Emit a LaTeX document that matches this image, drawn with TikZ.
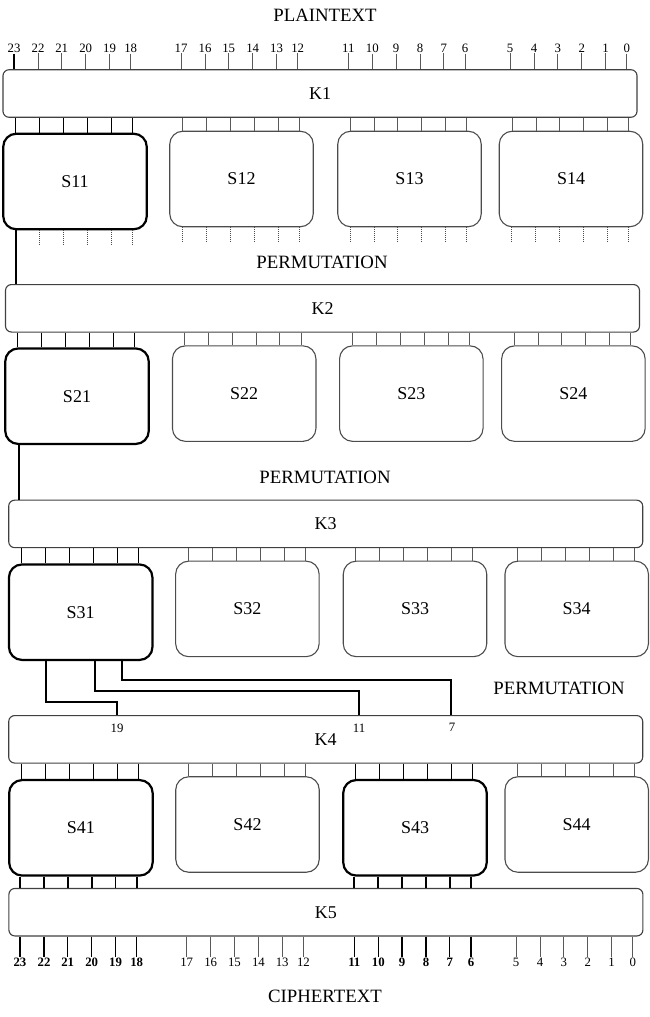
\documentclass[tikz,border=0pt]{standalone}
\usepackage{fontspec}
\setmainfont{Liberation Serif}
\begin{document}
\begin{tikzpicture}[x=1pt,y=-1pt,
  kbox/.style={draw=black!75, line width=1.1pt, rounded corners=6pt, minimum width=634pt, minimum height=47.5pt, inner sep=0pt, font=\fontsize{18}{20}\selectfont},
  sbox/.style={draw=black!70, line width=1.1pt, rounded corners=13pt, minimum width=143.5pt, minimum height=95.5pt, inner sep=0pt, font=\fontsize{18}{20}\selectfont},
  shl/.style={sbox, draw=black, line width=2.2pt},
  bitlbl/.style={font=\fontsize{12.8}{14}\selectfont, inner sep=1pt},
  bitbold/.style={bitlbl, font=\fontsize{12.8}{14}\selectfont\bfseries},
  ttl/.style={font=\fontsize{18.8}{20}\selectfont, inner sep=0pt},
  tick/.style={draw=black!65, line width=1pt},
  tickhl/.style={draw=black, line width=1.3pt},
  thickln/.style={draw=black, line width=2pt},
  dots/.style={draw=black!70, line width=0.9pt, densely dotted}]
\useasboundingbox (0,0) rectangle (650,1017);
\def\offs{0,24,47.7,71.7,95.5,116.7}

% titles
\node[ttl] (pt) at (325,15) {PLAINTEXT};
\node[ttl] (p1) at (322,262) {PERMUTATION};
\node[ttl] (p2) at (325,477) {PERMUTATION};
\node[ttl] (p3) at (559,688) {PERMUTATION};
\node[ttl] (ct) at (325,996) {CIPHERTEXT};

% key boxes
\node[kbox] (K1) at (320,93.5) {K1};
\node[kbox] (K2) at (322.5,308.3) {K2};
\node[kbox] (K3) at (325.7,523.9) {K3};
\node[kbox] (K4) at (325.7,739.3) {K4};
\node[kbox] (K5) at (325.9,912.2) {K5};

% S-boxes
\node[shl]  (S11) at (75,181.5) {S11};
\node[sbox] (S12) at (241.5,179) {S12};
\node[sbox] (S13) at (409.5,179) {S13};
\node[sbox] (S14) at (571,179) {S14};
\node[shl]  (S21) at (77,396.2) {S21};
\node[sbox] (S22) at (244.2,393.6) {S22};
\node[sbox] (S23) at (411.3,393.6) {S23};
\node[sbox] (S24) at (573.4,393.6) {S24};
\node[shl]  (S31) at (80.7,612.2) {S31};
\node[sbox] (S32) at (247.4,608.9) {S32};
\node[sbox] (S33) at (415,608.9) {S33};
\node[sbox] (S34) at (576.7,608.9) {S34};
\node[shl]  (S41) at (80.9,827.8) {S41};
\node[sbox] (S42) at (247.5,824.5) {S42};
\node[shl]  (S43) at (415,827.8) {S43};
\node[sbox] (S44) at (576.7,824.5) {S44};

% plaintext bits
\foreach \gs/\bs in {14/23, 181/17, 348.3/11, 510/5} {
  \foreach \o [count=\i from 0] in \offs {
    \pgfmathtruncatemacro\b{\bs-\i}
    \pgfmathsetmacro\xx{\gs+\o}
    \node[bitlbl] (t\b) at (\xx,48) {\b};
    \ifnum\b=23
      \draw[tickhl, line width=1.8pt] (t\b.south) -- (t\b.south |- K1.north);
    \else
      \draw[tick] (t\b.south) -- (t\b.south |- K1.north);
    \fi
  }
}

% round 1 inputs
\foreach \gs/\s/\st in {15.7/S11/tickhl, 182.7/S12/tick, 350/S13/tick, 512/S14/tick} {
  \foreach \o in \offs {
    \pgfmathsetmacro\xx{\gs+\o}
    \draw[\st] (K1.south -| \xx,0) -- (\s.north -| \xx,0);
  }
}
% round 1 outputs (dotted)
\foreach \gs/\s in {15.7/S11, 182.7/S12, 350/S13, 511.7/S14} {
  \foreach \o in \offs {
    \pgfmathsetmacro\xx{\gs+\o}
    \draw[dots] (\s.south -| \xx,0) -- ++(0,15);
  }
}
\draw[thickln] (S11.south -| 15.7,0) -- (K2.north -| 15.7,0);

% round 2
\foreach \gs/\s/\st in {17.7/S21/tickhl, 184.3/S22/tick, 352.7/S23/tick, 514/S24/tick} {
  \foreach \o in \offs {
    \pgfmathsetmacro\xx{\gs+\o}
    \draw[\st] (K2.south -| \xx,0) -- (\s.north -| \xx,0);
  }
}
\draw[thickln] (S21.south -| 19,0) -- (K3.north -| 19,0);

% round 3
\foreach \gs/\s/\st in {21.7/S31/tickhl, 188.7/S32/tick, 355.7/S33/tick, 517.7/S34/tick} {
  \foreach \o in \offs {
    \pgfmathsetmacro\xx{\gs+\o}
    \draw[\st] (K3.south -| \xx,0) -- (\s.north -| \xx,0);
  }
}
% permutation wires
\coordinate (a1) at (45.7,702.3);
\coordinate (a2) at (117,702.3);
\coordinate (b1) at (95.3,690.7);
\coordinate (b2) at (358.7,690.7);
\coordinate (c1) at (122,680);
\coordinate (c2) at (451.3,680);
\draw[thickln] (S31.south -| a1) -- (a1) -- (a2) -- (a2 |- K4.north);
\draw[thickln] (S31.south -| b1) -- (b1) -- (b2) -- (b2 |- K4.north);
\draw[thickln] (S31.south -| c1) -- (c1) -- (c2) -- (c2 |- K4.north);
\node[bitlbl] (w19) at (117,728) {19};
\node[bitlbl] (w11) at (359,728) {11};
\node[bitlbl] (w7) at (452,727) {7};

% round 4
\foreach \gs/\s/\st in {21.7/S41/tickhl, 188.7/S42/tick, 355.7/S43/tickhl, 517.7/S44/tick} {
  \foreach \o in \offs {
    \pgfmathsetmacro\xx{\gs+\o}
    \draw[\st] (K4.south -| \xx,0) -- (\s.north -| \xx,0);
  }
}
\foreach \gs/\s in {20/S41, 354.3/S43} {
  \foreach \o in \offs {
    \pgfmathsetmacro\xx{\gs+\o}
    \draw[thickln, line width=1.8pt] (\s.south -| \xx,0) -- (K5.north -| \xx,0);
  }
}

% ciphertext bits
\foreach \gs/\bs/\bst/\tst in {20/23/bitbold/tickhl, 186.7/17/bitlbl/tick, 354.3/11/bitbold/tickhl, 516/5/bitlbl/tick} {
  \foreach \o [count=\i from 0] in \offs {
    \pgfmathtruncatemacro\b{\bs-\i}
    \pgfmathsetmacro\xx{\gs+\o}
    \node[\bst] (c\b) at (\xx,962.5) {\b};
    \draw[\tst] (K5.south -| c\b.north) -- (c\b.north);
  }
}
\end{tikzpicture}
\end{document}
